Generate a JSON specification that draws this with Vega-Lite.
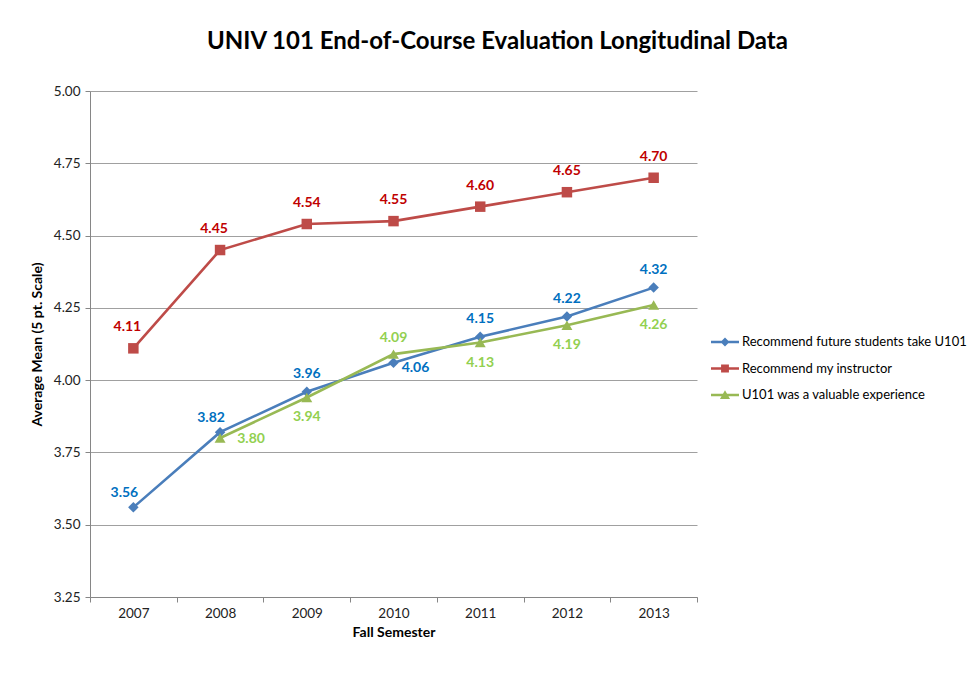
{
  "$schema": "https://vega.github.io/schema/vega-lite/v6.json",
  "width": 607,
  "height": 506,
  "autosize": {"type": "none"},
  "padding": {"left": 90, "top": 91, "right": 282, "bottom": 78},
  "background": "white",
  "title": {
    "text": "UNIV 101 End-of-Course Evaluation Longitudinal Data",
    "font": "Lato",
    "fontSize": 24,
    "fontWeight": "bold",
    "color": "#000000",
    "anchor": "middle",
    "dx": 104,
    "offset": 30
  },
  "config": {
    "font": "Lato",
    "view": {"stroke": null},
    "axis": {
      "labelFont": "Lato",
      "titleFont": "Lato",
      "labelFontSize": 13.5,
      "titleFontSize": 14,
      "titleFontWeight": "bold",
      "labelColor": "#222222",
      "titleColor": "#000000",
      "domainColor": "#868686",
      "tickColor": "#868686",
      "gridColor": "#a0a0a0",
      "tickSize": 5
    },
    "legend": {
      "labelFont": "Lato",
      "labelFontSize": 13,
      "labelColor": "#000000",
      "labelLimit": 0
    }
  },
  "data": {
    "values": [
      {"year": 2007, "series": "Recommend future students take U101", "value": 3.56},
      {"year": 2008, "series": "Recommend future students take U101", "value": 3.82},
      {"year": 2009, "series": "Recommend future students take U101", "value": 3.96},
      {"year": 2010, "series": "Recommend future students take U101", "value": 4.06},
      {"year": 2011, "series": "Recommend future students take U101", "value": 4.15},
      {"year": 2012, "series": "Recommend future students take U101", "value": 4.22},
      {"year": 2013, "series": "Recommend future students take U101", "value": 4.32},
      {"year": 2007, "series": "Recommend my instructor", "value": 4.11},
      {"year": 2008, "series": "Recommend my instructor", "value": 4.45},
      {"year": 2009, "series": "Recommend my instructor", "value": 4.54},
      {"year": 2010, "series": "Recommend my instructor", "value": 4.55},
      {"year": 2011, "series": "Recommend my instructor", "value": 4.60},
      {"year": 2012, "series": "Recommend my instructor", "value": 4.65},
      {"year": 2013, "series": "Recommend my instructor", "value": 4.70},
      {"year": 2008, "series": "U101 was a valuable experience", "value": 3.80},
      {"year": 2009, "series": "U101 was a valuable experience", "value": 3.94},
      {"year": 2010, "series": "U101 was a valuable experience", "value": 4.09},
      {"year": 2011, "series": "U101 was a valuable experience", "value": 4.13},
      {"year": 2012, "series": "U101 was a valuable experience", "value": 4.19},
      {"year": 2013, "series": "U101 was a valuable experience", "value": 4.26}
    ]
  },
  "encoding": {
    "x": {
      "field": "year",
      "type": "ordinal",
      "scale": {"type": "band", "domain": [2007, 2008, 2009, 2010, 2011, 2012, 2013], "paddingInner": 0, "paddingOuter": 0},
      "axis": {
        "title": "Fall Semester",
        "labelAngle": 0,
        "tickBand": "extent",
        "grid": false,
        "labelPadding": 4,
        "titlePadding": 6
      }
    },
    "y": {
      "field": "value",
      "type": "quantitative",
      "scale": {"domain": [3.25, 5.0], "zero": false, "nice": false},
      "axis": {
        "title": "Average Mean (5 pt. Scale)",
        "values": [3.25, 3.5, 3.75, 4.0, 4.25, 4.5, 4.75, 5.0],
        "format": ".2f",
        "grid": true,
        "labelPadding": 5,
        "titlePadding": 9
      }
    }
  },
  "layer": [
    {
      "transform": [{"filter": "datum.series == 'Recommend future students take U101'"}],
      "mark": {"type": "line", "strokeWidth": 2.6, "color": "#4A7EBB"}
    },
    {
      "transform": [{"filter": "datum.series == 'Recommend my instructor'"}],
      "mark": {"type": "line", "strokeWidth": 2.6, "color": "#BE4B48"}
    },
    {
      "transform": [{"filter": "datum.series == 'U101 was a valuable experience'"}],
      "mark": {"type": "line", "strokeWidth": 2.6, "color": "#98B954"}
    },
    {
      "transform": [{"filter": "datum.series == 'Recommend future students take U101'"}],
      "mark": {"type": "point", "shape": "diamond", "filled": true, "opacity": 1, "size": 110, "color": "#4A7EBB"}
    },
    {
      "transform": [{"filter": "datum.series == 'Recommend my instructor'"}],
      "mark": {"type": "point", "shape": "square", "filled": true, "opacity": 1, "size": 110, "color": "#BE4B48"}
    },
    {
      "transform": [{"filter": "datum.series == 'U101 was a valuable experience'"}],
      "mark": {"type": "point", "shape": "triangle-up", "filled": true, "opacity": 1, "size": 120, "color": "#98B954"}
    },
    {
      "transform": [{"filter": "datum.year < 0"}],
      "mark": {"type": "point", "filled": true, "opacity": 1},
      "encoding": {
        "color": {
          "field": "series", "type": "nominal",
          "scale": {"domain": ["Recommend future students take U101", "Recommend my instructor", "U101 was a valuable experience"], "range": ["#4A7EBB", "#BE4B48", "#98B954"]},
          "legend": {
            "title": null,
            "orient": "none",
            "legendX": 621,
            "legendY": 237,
            "symbolSize": 784,
            "symbolOpacity": 1,
            "symbolStrokeWidth": 0,
            "rowPadding": 5.5,
            "labelOffset": 3
          }
        },
        "shape": {
          "field": "series", "type": "nominal",
          "scale": {"domain": ["Recommend future students take U101", "Recommend my instructor", "U101 was a valuable experience"], "range": [
            "M-1,-0.095H1V0.095H-1Z M0,-0.32L0.32,0L0,0.32L-0.32,0Z",
            "M-1,-0.095H1V0.095H-1Z M-0.28,-0.28H0.28V0.28H-0.28Z",
            "M-1,-0.095H1V0.095H-1Z M0,-0.34L0.36,0.28H-0.36Z"
          ]},
          "legend": {
            "title": null,
            "orient": "none",
            "legendX": 621,
            "legendY": 237,
            "symbolSize": 784,
            "symbolOpacity": 1,
            "symbolStrokeWidth": 0,
            "rowPadding": 5.5,
            "labelOffset": 3
          }
        }
      }
    },
    {
      "transform": [{"filter": "datum.series == 'Recommend my instructor' && datum.year <= 2008"}],
      "mark": {"type": "text", "fontWeight": "bold", "fontSize": 14, "color": "#C00000", "dx": -6, "dy": -21},
      "encoding": {"text": {"field": "value", "type": "quantitative", "format": ".2f"}}
    },
    {
      "transform": [{"filter": "datum.series == 'Recommend my instructor' && datum.year > 2008"}],
      "mark": {"type": "text", "fontWeight": "bold", "fontSize": 14, "color": "#C00000", "dy": -21},
      "encoding": {"text": {"field": "value", "type": "quantitative", "format": ".2f"}}
    },
    {
      "transform": [{"filter": "datum.series == 'Recommend future students take U101' && datum.year <= 2008"}],
      "mark": {"type": "text", "fontWeight": "bold", "fontSize": 14, "color": "#0070C0", "dx": -9, "dy": -14},
      "encoding": {"text": {"field": "value", "type": "quantitative", "format": ".2f"}}
    },
    {
      "transform": [{"filter": "datum.series == 'Recommend future students take U101' && datum.year == 2010"}],
      "mark": {"type": "text", "fontWeight": "bold", "fontSize": 14, "color": "#0070C0", "dx": 22, "dy": 5},
      "encoding": {"text": {"field": "value", "type": "quantitative", "format": ".2f"}}
    },
    {
      "transform": [{"filter": "datum.series == 'Recommend future students take U101' && datum.year != 2010 && datum.year > 2008"}],
      "mark": {"type": "text", "fontWeight": "bold", "fontSize": 14, "color": "#0070C0", "dy": -18},
      "encoding": {"text": {"field": "value", "type": "quantitative", "format": ".2f"}}
    },
    {
      "transform": [{"filter": "datum.series == 'U101 was a valuable experience' && datum.year == 2008"}],
      "mark": {"type": "text", "fontWeight": "bold", "fontSize": 14, "color": "#92D050", "dx": 31, "dy": 1},
      "encoding": {"text": {"field": "value", "type": "quantitative", "format": ".2f"}}
    },
    {
      "transform": [{"filter": "datum.series == 'U101 was a valuable experience' && datum.year == 2010"}],
      "mark": {"type": "text", "fontWeight": "bold", "fontSize": 14, "color": "#92D050", "dy": -16},
      "encoding": {"text": {"field": "value", "type": "quantitative", "format": ".2f"}}
    },
    {
      "transform": [{"filter": "datum.series == 'U101 was a valuable experience' && datum.year != 2010 && datum.year != 2008"}],
      "mark": {"type": "text", "fontWeight": "bold", "fontSize": 14, "color": "#92D050", "dy": 20},
      "encoding": {"text": {"field": "value", "type": "quantitative", "format": ".2f"}}
    }
  ]
}
